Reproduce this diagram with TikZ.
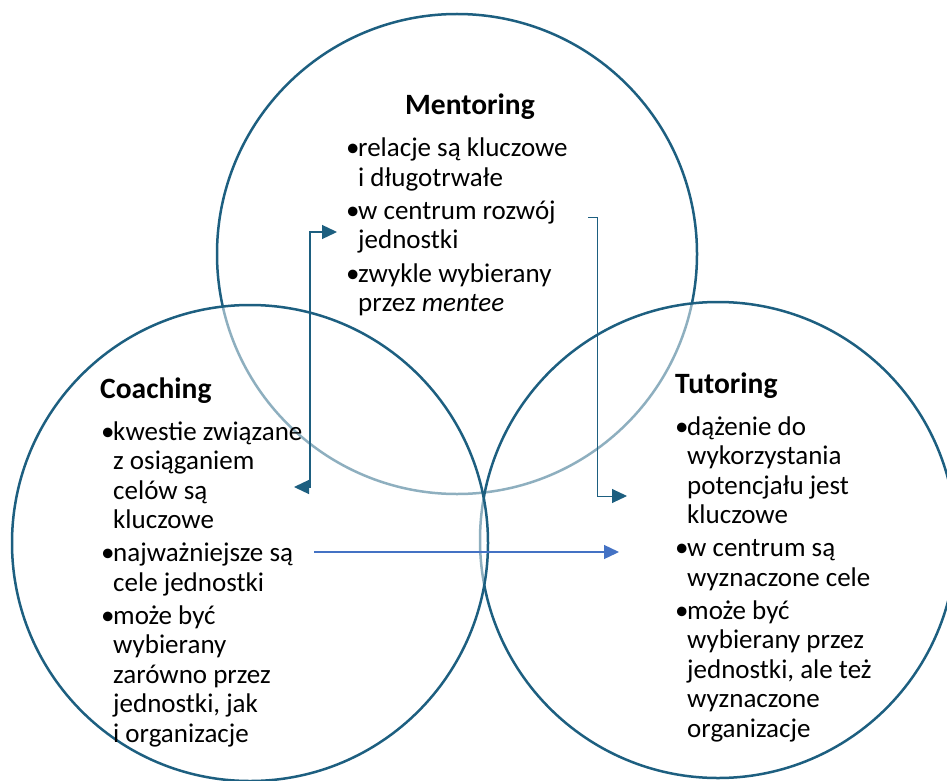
\documentclass[tikz,border=0pt]{standalone}
\usepackage{fontspec}
\setmainfont{Carlito}
\usetikzlibrary{arrows.meta}
\definecolor{ring}{HTML}{1D5F80}
\definecolor{arrblue}{HTML}{4472C4}
\newcommand{\bul}{\makebox[12pt][l]{•}}
\begin{document}
\begin{tikzpicture}[x=1pt,y=-1pt,
  ringst/.style={draw=ring, line width=2.5pt, fill=white, fill opacity=0.5},
  titlest/.style={inner sep=0pt, anchor=base west, font=\fontsize{29.5}{34}\selectfont\bfseries},
  bodyst/.style={inner sep=0pt, anchor=base west, font=\fontsize{27}{29.5}\selectfont},
  bracket/.style={draw=ring, line width=1.3pt, -{Triangle[length=15pt,width=14pt]}}]
\useasboundingbox (0,0) rectangle (947,781);
\begin{scope}
\clip (0,0) rectangle (947,781);
\path[ringst] (457,254) circle[radius=240pt];
\path[ringst] (718,540) circle[radius=238pt];
\path[ringst] (250,543) circle[radius=238pt];
\end{scope}
% titles
\node[titlest] (tm) at (405,115) {Mentoring};
\node[titlest] (tc) at (100,398) {Coaching};
\node[titlest] (tt) at (675,393) {Tutoring};
% bodies
\node[bodyst] (bm) at (346,157) {\begin{tabular}[t]{@{}l@{}l@{}}
\bul&relacje są kluczowe\\
&i długotrwałe\\[3.5pt]
\bul&w centrum rozwój\\
&jednostki\\[3.5pt]
\bul&zwykle wybierany\\
&przez \textit{mentee}
\end{tabular}};
\node[bodyst] (bc) at (101,440) {\begin{tabular}[t]{@{}l@{}l@{}}
\bul&kwestie związane\\
&z osiąganiem\\
&celów są\\
&kluczowe\\[3.5pt]
\bul&najważniejsze są\\
&cele jednostki\\[3.5pt]
\bul&może być\\
&wybierany\\
&zarówno przez\\
&jednostki, jak\\
&i organizacje
\end{tabular}};
\node[bodyst] (bt) at (675,435) {\begin{tabular}[t]{@{}l@{}l@{}}
\bul&dążenie do\\
&wykorzystania\\
&potencjału jest\\
&kluczowe\\[3.5pt]
\bul&w centrum są\\
&wyznaczone cele\\[3.5pt]
\bul&może być\\
&wybierany przez\\
&jednostki, ale też\\
&wyznaczone\\
&organizacje
\end{tabular}};
% arrows
\coordinate (la) at (337,232);
\coordinate (lb) at (294,487);
\coordinate (ra) at (588,217);
\coordinate (rb) at (627,496);
\coordinate (ba) at (314,552);
\coordinate (bb) at (619,552);
\draw[bracket, {Triangle[length=15pt,width=14pt]}-{Triangle[length=15pt,width=14pt]}] (lb) -- (310,487) -- (310,232) -- (la);
\draw[bracket, line width=1pt] (ra) -- (597,217) -- (597,496) -- (rb);
\draw[draw=arrblue, line width=1.3pt, -{Triangle[length=15pt,width=14pt]}] (ba) -- (bb);
\end{tikzpicture}
\end{document}
